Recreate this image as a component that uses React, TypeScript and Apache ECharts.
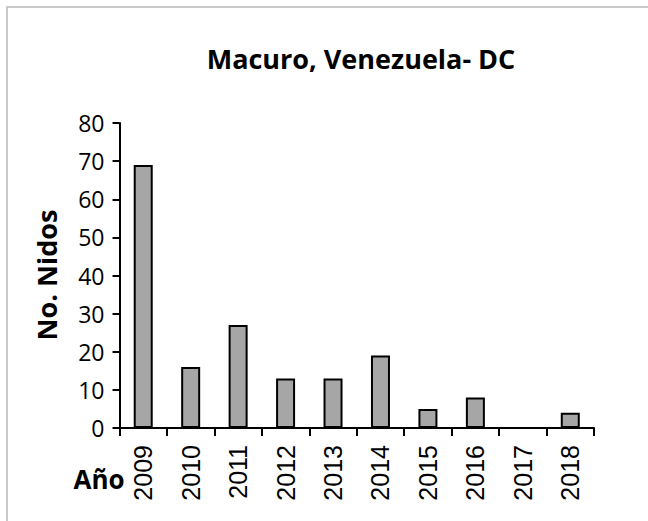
import React, { useEffect, useRef } from "react";
import * as echarts from "echarts";

const years = ["2009", "2010", "2011", "2012", "2013", "2014", "2015", "2016", "2017", "2018"];
const nidos = [69, 16, 27, 13, 13, 19, 5, 8, 0, 4];
const yTicks = { min: 0, max: 80, interval: 10 };
const titleText = "Macuro, Venezuela- DC";
const yName = "No. Nidos";
const xName = "Año";

export default function App() {
  const ref = useRef<HTMLDivElement>(null);
  useEffect(() => {
    if (!ref.current) return;
    const chart = echarts.init(ref.current, null, { renderer: "svg" });
    chart.setOption({
      animation: false,
      backgroundColor: "#ffffff",
      grid: { left: 119.5, right: 54, top: 123, bottom: 93, containLabel: false },
      xAxis: {
        type: "category",
        data: years,
        boundaryGap: true,
        axisLine: { lineStyle: { color: "#000", width: 2 } },
        axisTick: { show: true, length: 8, lineStyle: { color: "#000", width: 2 } },
        axisLabel: {
          rotate: 90,
          margin: 17,
          color: "#000",
          fontSize: 25,
          fontFamily: "Liberation Sans",
          interval: 0,
        },
        splitLine: { show: false },
      },
      yAxis: {
        type: "value",
        min: yTicks.min,
        max: yTicks.max,
        interval: yTicks.interval,
        axisLine: { show: true, lineStyle: { color: "#000", width: 2 } },
        axisTick: { show: true, length: 7, lineStyle: { color: "#000", width: 2 } },
        axisLabel: { margin: 15, color: "#000", fontSize: 23, fontFamily: "Open Sans" },
        splitLine: { show: false },
      },
      series: [
        {
          type: "bar",
          data: nidos,
          barWidth: 19,
          itemStyle: { color: "#a6a6a6", borderColor: "#000", borderWidth: 2 },
        },
      ],
      graphic: [
        {
          type: "rect",
          shape: { x: 7, y: 7, width: 800, height: 700 },
          style: { fill: "none", stroke: "#b8b8b8", lineWidth: 1.5 },
          silent: true,
        },
        {
          type: "text",
          x: 361,
          y: 58,
          style: {
            text: titleText,
            fontSize: 27,
            fontWeight: "bold",
            fontFamily: "Open Sans",
            fill: "#000",
            textAlign: "center",
            textVerticalAlign: "middle",
          },
        },
        {
          type: "text",
          x: 46,
          y: 275,
          rotation: Math.PI / 2,
          style: {
            text: yName,
            fontSize: 27,
            fontWeight: "bold",
            fontFamily: "Open Sans",
            fill: "#000",
            textAlign: "center",
            textVerticalAlign: "middle",
          },
        },
        {
          type: "text",
          x: 99,
          y: 479,
          style: {
            text: xName,
            fontSize: 26,
            fontWeight: "bold",
            fontFamily: "Open Sans",
            fill: "#000",
            textAlign: "center",
            textVerticalAlign: "middle",
          },
        },
      ],
    });
    return () => chart.dispose();
  }, []);
  return (
    <div
      ref={ref}
      style={{ position: "absolute", left: 0, top: 0, width: 648, height: 521 }}
    />
  );
}
